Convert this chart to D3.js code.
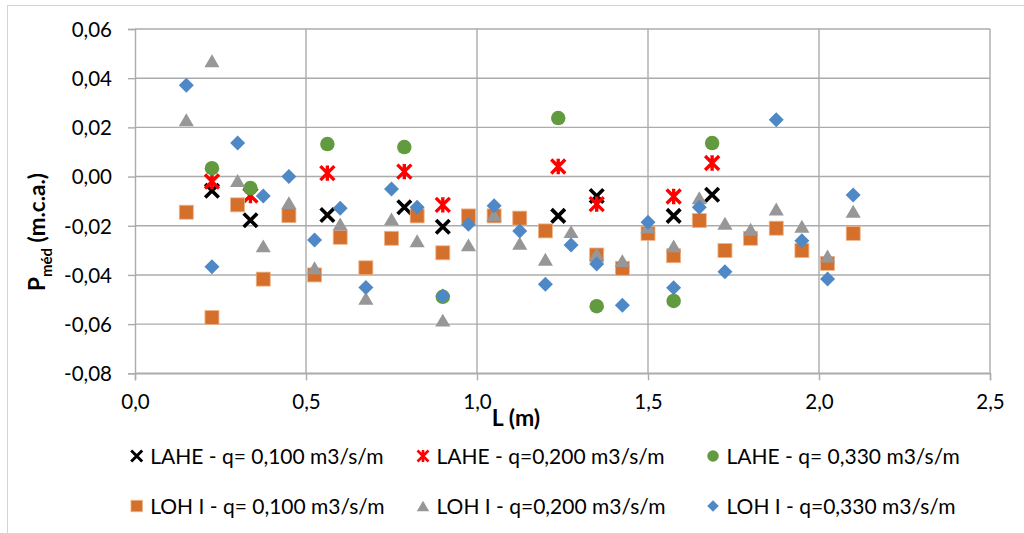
<!DOCTYPE html>
<html><head><meta charset="utf-8">
<script src="https://cdn.jsdelivr.net/npm/d3@7"></script>
<style>
html,body{margin:0;padding:0;background:#fff;}
svg{display:block;}
text{font-family:Lato,"Open Sans",sans-serif;fill:#000;}
</style></head>
<body>
<svg id="c" width="1024" height="533"></svg>
<script>
// ---- data ----
const xTicks = [0, 0.5, 1.0, 1.5, 2.0, 2.5];
const yTicks = [-0.08, -0.06, -0.04, -0.02, 0.00, 0.02, 0.04, 0.06];

const laheX = [0.225, 0.3375, 0.5625, 0.7875, 0.9, 1.2375, 1.35, 1.575, 1.6875];
const laheQ100 = [-0.0058, -0.0178, -0.0156, -0.0125, -0.0204, -0.0160, -0.0079, -0.0160, -0.0074];
const laheQ200 = [-0.0020, -0.0077, 0.0014, 0.0020, -0.0115, 0.0041, -0.0112, -0.0081, 0.0055];
const laheQ330 = [0.0034, -0.0047, 0.0132, 0.0120, -0.0489, 0.0238, -0.0527, -0.0506, 0.0136];

const lohX100 = [0.15,0.225,0.3,0.375,0.45,0.525,0.6,0.675,0.75,0.825,0.9,0.975,1.05,1.125,1.2,1.35,1.425,1.5,1.575,1.65,1.725,1.8,1.875,1.95,2.025,2.1];
const lohQ100 = [-0.0145,-0.0573,-0.0115,-0.0417,-0.0159,-0.0400,-0.0247,-0.0371,-0.0251,-0.0160,-0.0310,-0.0160,-0.0160,-0.0169,-0.0221,-0.0319,-0.0373,-0.0231,-0.0322,-0.0179,-0.0301,-0.0251,-0.0210,-0.0301,-0.0353,-0.0231];

const lohX200 = [0.15,0.225,0.3,0.375,0.45,0.525,0.6,0.675,0.75,0.825,0.9,0.975,1.05,1.125,1.2,1.275,1.35,1.425,1.5,1.575,1.65,1.725,1.8,1.875,1.95,2.025,2.1];
const lohQ200 = [0.0231,0.0471,-0.0016,-0.0282,-0.0106,-0.0371,-0.0193,-0.0495,-0.0172,-0.0261,-0.0584,-0.0278,-0.0156,-0.0271,-0.0336,-0.0224,-0.0315,-0.0342,-0.0204,-0.0282,-0.0086,-0.0190,-0.0214,-0.0132,-0.0202,-0.0323,-0.0141];

const lohX330 = [0.15,0.225,0.3,0.375,0.45,0.525,0.6,0.675,0.75,0.825,0.9,0.975,1.05,1.125,1.2,1.275,1.35,1.425,1.5,1.575,1.65,1.725,1.875,1.95,2.025,2.1];
const lohQ330 = [0.0371,-0.0367,0.0136,-0.0079,0.0000,-0.0258,-0.0129,-0.0451,-0.0051,-0.0125,-0.0486,-0.0194,-0.0119,-0.0221,-0.0438,-0.0278,-0.0356,-0.0523,-0.0186,-0.0452,-0.0125,-0.0387,0.0231,-0.0261,-0.0417,-0.0075];

const seriesNames = ["LAHE - q= 0,100 m3/s/m","LAHE - q=0,200 m3/s/m","LAHE - q= 0,330 m3/s/m",
                     "LOH I - q= 0,100 m3/s/m","LOH I - q=0,200 m3/s/m","LOH I - q=0,330 m3/s/m"];

// ---- setup ----
const svg = d3.select("#c");
const L = 135, R = 990, T = 29, B = 373.3;
const x = d3.scaleLinear().domain([0, 2.5]).range([L, R]);
const y = d3.scaleLinear().domain([-0.08, 0.06]).range([B, T]);
const fmtY = v => d3.format(".2f")(v).replace(".", ",").replace("−","-");
const fmtX = v => d3.format(".1f")(v).replace(".", ",");

const gridCol = "#ababab";

// outer border
svg.append("rect").attr("x",7.5).attr("y",5.5).attr("width",1040).attr("height",560)
  .attr("fill","none").attr("stroke","#d4d4d4").attr("stroke-width",1);

// grid
svg.append("g").selectAll("line").data(yTicks).join("line")
  .attr("x1",L).attr("x2",R).attr("y1",d=>y(d)).attr("y2",d=>y(d))
  .attr("stroke",gridCol).attr("stroke-width",1.4);
svg.append("g").selectAll("line").data(xTicks.slice(1)).join("line")
  .attr("x1",d=>x(d)).attr("x2",d=>x(d)).attr("y1",T).attr("y2",B)
  .attr("stroke",gridCol).attr("stroke-width",1.4);

// axes
const yAxis = d3.axisLeft(y).tickValues(yTicks).tickFormat(fmtY).tickSize(7).tickPadding(16);
const gy = svg.append("g").attr("transform",`translate(${L},0)`).call(yAxis);
gy.select(".domain").attr("stroke",gridCol).attr("stroke-width",1.4);
gy.selectAll(".tick line").attr("stroke",gridCol).attr("stroke-width",1.4);
gy.selectAll(".tick text").style("font-size","20.5px").attr("fill","#000").attr("dy","0.36em");

const xAxis = d3.axisBottom(x).tickValues(xTicks).tickFormat(fmtX).tickSize(7).tickPadding(14);
const gx = svg.append("g").attr("transform",`translate(0,${B})`).call(xAxis);
gx.select(".domain").attr("stroke",gridCol).attr("stroke-width",1.4);
gx.selectAll(".tick line").attr("stroke",gridCol).attr("stroke-width",1.4);
gx.selectAll(".tick text").style("font-size","20.5px").attr("fill","#000").attr("dy","0.71em");

// axis titles
svg.append("text").attr("x",516).attr("y",426).attr("text-anchor","middle")
  .style("font-size","23px").style("font-weight","bold").text("L (m)");
const yt = svg.append("text").attr("transform","translate(45,232) rotate(-90)")
  .attr("text-anchor","middle").style("font-size","22.5px").style("font-weight","bold");
yt.append("tspan").text("P");
yt.append("tspan").attr("dy",7).style("font-size","15px").text("méd");
yt.append("tspan").attr("dy",-7).text(" (m.c.a.)");

// ---- markers ----
const colors = ["#000000","#ff0000","#629b3f","#d5702c","#979797","#4f88c6"];
function drawMarker(g, type, cx, cy, s){
  const h = s/2;
  if(type===0){ // X
    g.append("path").attr("d",`M${cx-h},${cy-h}L${cx+h},${cy+h}M${cx-h},${cy+h}L${cx+h},${cy-h}`)
      .attr("stroke",colors[0]).attr("stroke-width",s*0.27).attr("fill","none");
  } else if(type===1){ // star
    g.append("path").attr("d",`M${cx-h},${cy-h}L${cx+h},${cy+h}M${cx-h},${cy+h}L${cx+h},${cy-h}M${cx},${cy-h*1.1}L${cx},${cy+h*1.1}`)
      .attr("stroke",colors[1]).attr("stroke-width",s*0.24).attr("fill","none");
  } else if(type===2){ // circle
    g.append("circle").attr("cx",cx).attr("cy",cy).attr("r",h).attr("fill",colors[2]);
  } else if(type===3){ // square
    g.append("rect").attr("x",cx-h).attr("y",cy-h).attr("width",s).attr("height",s)
      .attr("fill",colors[3]).attr("stroke","#efb48a").attr("stroke-width",0.8);
  } else if(type===4){ // triangle
    const hh = h*0.92;
    g.append("path").attr("d",`M${cx},${cy-hh}L${cx+h*1.08},${cy+hh}L${cx-h*1.08},${cy+hh}Z`).attr("fill",colors[4]);
  } else { // diamond
    g.append("path").attr("d",`M${cx},${cy-h}L${cx+h},${cy}L${cx},${cy+h}L${cx-h},${cy}Z`).attr("fill",colors[5]);
  }
}

const series = [
  {xs: laheX, ys: laheQ100, t:0, s:13.5},
  {xs: laheX, ys: laheQ200, t:1, s:14},
  {xs: laheX, ys: laheQ330, t:2, s:14.5},
  {xs: lohX100, ys: lohQ100, t:3, s:14},
  {xs: lohX200, ys: lohQ200, t:4, s:14},
  {xs: lohX330, ys: lohQ330, t:5, s:15},
];
const pg = svg.append("g");
series.forEach(sr=>{
  const g = pg.append("g");
  sr.xs.forEach((xv,i)=>drawMarker(g, sr.t, x(xv), y(sr.ys[i]), sr.s));
});

// ---- legend ----
const legCols = [136.7, 423, 713];
const legRows = [456, 506];
const lg = svg.append("g");
seriesNames.forEach((name,i)=>{
  const cx = legCols[i%3], cy = legRows[Math.floor(i/3)];
  drawMarker(lg, i, cx, cy, i<2?11:11.5);
  lg.append("text").attr("x",cx+13.5).attr("y",cy+7.5).style("font-size","21px").text(name);
});
</script>
</body></html>
